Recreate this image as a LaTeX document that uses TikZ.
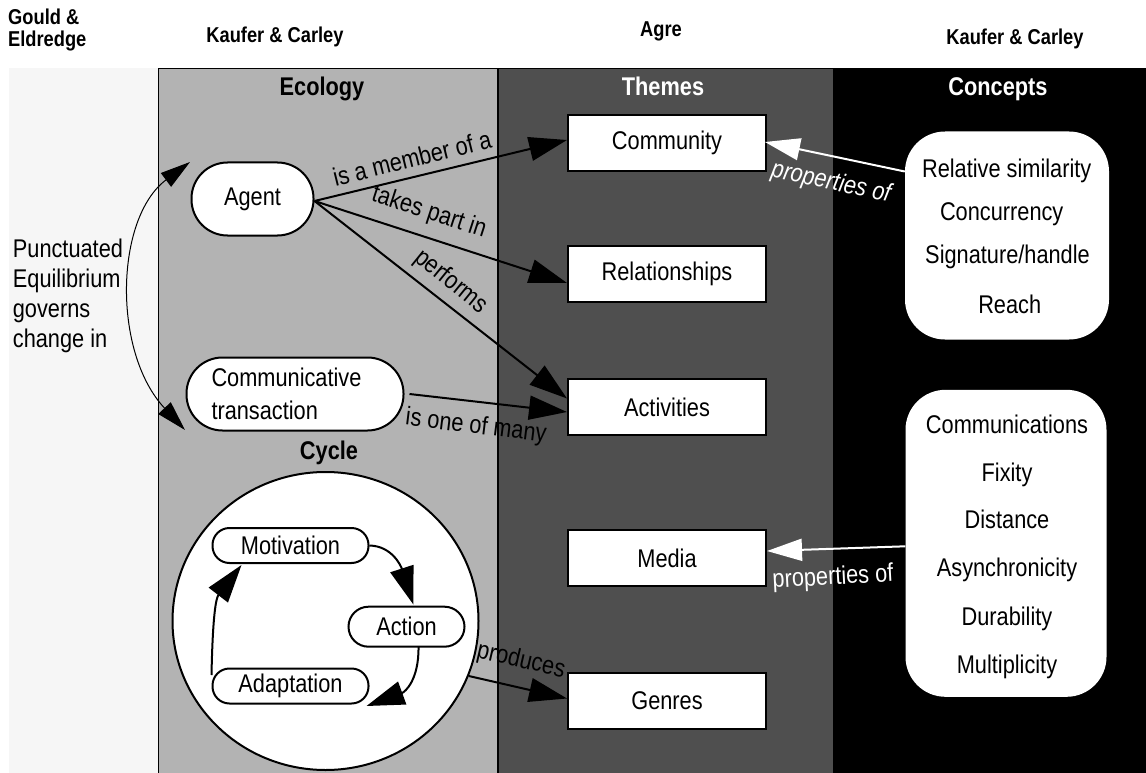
\documentclass[tikz,border=0pt]{standalone}
\usepackage{fontspec}
\setmainfont{Liberation Sans}[FakeStretch=0.85]
\usetikzlibrary{arrows.meta,shapes.geometric,calc}
\definecolor{lightpanel}{HTML}{F6F6F6}
\definecolor{midpanel}{HTML}{B3B3B3}
\definecolor{darkpanel}{HTML}{4F4F4F}
\begin{document}
\begin{tikzpicture}[x=1pt,y=-1pt,
  txt/.style={font=\fontsize{25.6}{30}\selectfont, inner sep=0pt},
  hdr/.style={font=\bfseries\fontsize{21.5}{22}\selectfont, inner sep=0pt},
  phdr/.style={font=\bfseries\fontsize{25.6}{30}\selectfont, inner sep=0pt},
  pill/.style={draw, line width=2pt, fill=white, rounded corners=#1, inner sep=0pt, font=\fontsize{25.6}{33}\selectfont},
  theme/.style={draw, line width=2pt, fill=white, minimum width=198pt, minimum height=56pt, inner sep=0pt, font=\fontsize{25.6}{30}\selectfont},
  concept/.style={fill=white, rounded corners=40pt, inner sep=0pt},
  arr/.style={line width=2pt, -{Triangle[length=38pt,width=24pt]}},
  warr/.style={white, line width=2pt, -{Triangle[length=35pt,width=22pt]}},
  thinarr/.style={line width=1pt, {Triangle[length=30pt,width=17pt]}-{Triangle[length=30pt,width=17pt]}},
  lbl/.style={font=\fontsize{25.6}{30}\selectfont, inner sep=0pt},
]
\useasboundingbox (0,0) rectangle (1146,773);
\fill[white] (0,0) rectangle (1146,773);
% panels
\fill[lightpanel] (9,68) rectangle (158,773);
\draw[fill=midpanel, line width=1pt] (158.5,68.5) rectangle (497,776);
\draw[fill=darkpanel, line width=1pt] (498.5,68.5) rectangle (833,776);
\fill[black] (833,68) rectangle (1146,773);

% top headers
\node[hdr, align=left, anchor=north west] (gould) at (8,9) {Gould \&\\Eldredge};
\node[hdr, anchor=base] (kc1) at (275,43) {Kaufer \& Carley};
\node[hdr, anchor=base] (agre) at (661,37) {Agre};
\node[hdr, anchor=base] (kc2) at (1015,45) {Kaufer \& Carley};

% panel headers
\node[phdr, anchor=base] (ecology) at (322,96) {Ecology};
\node[phdr, anchor=base, white] (themes) at (663,96) {Themes};
\node[phdr, anchor=base, white] (concepts) at (998,96) {Concepts};

% left text
\node[txt, align=left, anchor=north west] (pe) at (12.7,239) {Punctuated\\Equilibrium\\governs\\change in};
\coordinate (petop) at (190,162);
\coordinate (pebot) at (185,430);
\draw[thinarr] (petop) .. controls (115,218) and (112,352) .. (pebot);

% ecology nodes
\node[pill=36pt, minimum width=122pt, minimum height=73pt] (agent) at (252.5,199) {Agent};
\node[pill=36pt, minimum height=73pt, text width=167pt, inner xsep=25pt, align=left] (ct) at (295,394) {Communicative\\transaction};
\node[phdr, anchor=base] (cyclelbl) at (329,459) {Cycle};
\node[draw, ellipse, line width=2pt, fill=white, minimum width=306pt, minimum height=298pt, inner sep=0pt] (cycle) at (325.5,621) {};
\node[pill=17pt, minimum width=156pt, minimum height=35pt] (motiv) at (290.5,545.5) {Motivation};
\node[pill=20pt, minimum width=116pt, minimum height=40pt] (action) at (406.5,626.7) {Action};
\node[pill=17pt, minimum width=156pt, minimum height=35pt] (adapt) at (290.5,686) {Adaptation};

% themes
\node[theme] (community) at (667,143) {Community};
\node[theme] (relationships) at (667,274) {Relationships};
\node[theme] (activities) at (667,407) {Activities};
\node[theme] (media) at (667,558) {Media};
\node[theme] (genres) at (667,700.5) {Genres};

% concepts
\node[concept, minimum width=204pt, minimum height=208pt] (c1) at (1007,235.5) {};
\node[txt, anchor=base] (c1a) at (1006.7,178) {Relative similarity};
\node[txt, anchor=base] (c1b) at (1001.7,220) {Concurrency};
\node[txt, anchor=base] (c1c) at (1007.5,263) {Signature/handle};
\node[txt, anchor=base] (c1d) at (1009.7,313) {Reach};

\node[concept, minimum width=201pt, minimum height=307pt] (c2) at (1006,543.3) {};
\node[txt, anchor=base] (c2a) at (1007,433) {Communications};
\node[txt, anchor=base] (c2b) at (1007,481.5) {Fixity};
\node[txt, anchor=base] (c2c) at (1007,528.5) {Distance};
\node[txt, anchor=base] (c2d) at (1007,576.5) {Asynchronicity};
\node[txt, anchor=base] (c2e) at (1007,625) {Durability};
\node[txt, anchor=base] (c2f) at (1007,673.3) {Multiplicity};

% cycle arrows
\draw[arr] (motiv.east) .. controls (392,546) and (401,566) .. ($(action.north)+(7,-1)$);
\draw[arr] ($(action.south)+(12,-1)$) .. controls (419,680) and (405,692) .. ($(adapt.south east)+(-3,1.5)$);
\draw[arr] ($(adapt.west)+(0,-11)$) .. controls (212.7,615) and (216,598) .. ($(motiv.south)+(-49,1)$);

% main arrows
\draw[arr] ($(agent.east)+(0,2)$) -- ($(community.west)+(0,-3)$);
\draw[arr] ($(agent.east)+(0,2)$) -- ($(relationships.west)+(0,9)$);
\draw[arr] ($(agent.east)+(0,2)$) -- ($(activities.west)+(0,-8.5)$);
\draw[arr] ($(ct.east)+(5,0)$) -- ($(activities.west)+(0,5)$);
\draw[arr] (cycle.-21.3) -- ($(genres.west)+(0,-2)$);

% white arrows
\draw[warr] ($(c1.west)+(0,-64)$) -- ($(community.east)+(-2,-1)$);
\draw[warr] ($(c2.west)+(0,3)$) -- ($(media.east)+(0,-7)$);

% labels
\node[lbl, rotate=14] (l1) at (412,158) {is a member of a};
\node[lbl, rotate=-18] (l2) at (429,213) {takes part in};
\node[lbl, rotate=-39] (l3) at (451,282) {performs};
\node[lbl, rotate=-7] (l4) at (476,427) {is one of many};
\node[lbl, rotate=-13] (l5) at (521,661) {produces};
\node[lbl, rotate=-12, white, font=\itshape\fontsize{25.6}{30}\selectfont] (l6) at (831,183) {properties of};
\node[lbl, rotate=3, white] (l7) at (833,578) {properties of};
\end{tikzpicture}
\end{document}
